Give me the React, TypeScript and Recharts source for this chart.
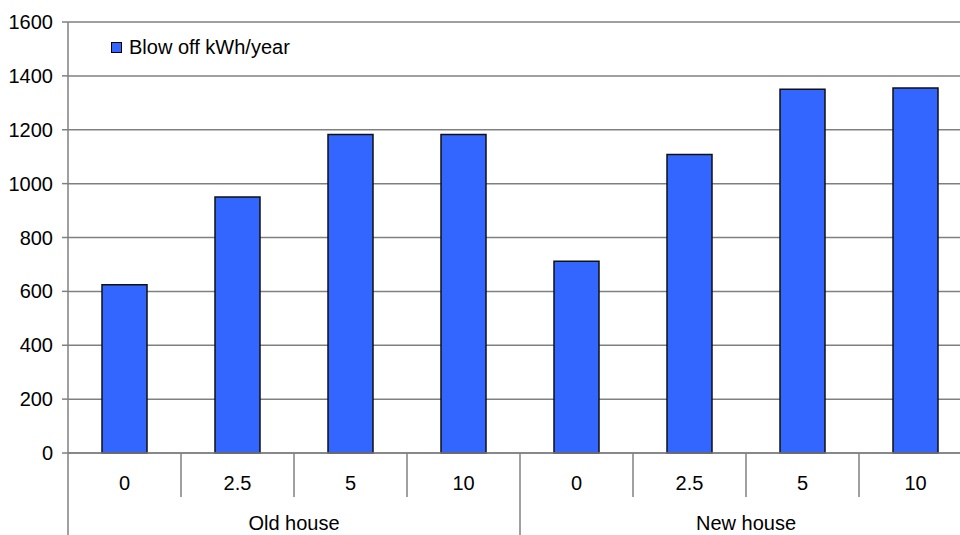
import React from 'react';
import { BarChart, Bar, XAxis, YAxis, CartesianGrid } from 'recharts';

const groups = ['Old house', 'New house'];
const ventLabels = ['0', '2.5', '5', '10'];
const oldHouse = [625, 950, 1182, 1182];
const newHouse = [712, 1108, 1350, 1355];
const yTicks = [0, 200, 400, 600, 800, 1000, 1200, 1400, 1600];
const seriesName = 'Blow off kWh/year';

const seriesByGroup = [oldHouse, newHouse];
const data = groups.flatMap((group, gi) =>
  ventLabels.map((vent, vi) => ({
    key: `${group}-${vent}`,
    group,
    vent,
    blowOff: seriesByGroup[gi][vi],
  }))
);

const FONT = '"Liberation Sans", Arial, sans-serif';
const FS = 20;
const AXIS = '#808080';
const XAXIS_H = 82;

function TwoLevelTick(props: any) {
  const { x, y, index, width, visibleTicksCount } = props;
  const row = data[index];
  const catW = width / visibleTicksCount;
  const half = catW / 2;
  const perGroup = ventLabels.length;
  const posInGroup = index % perGroup;
  const isGroupStart = posInGroup === 0;
  const isGroupEnd = posInGroup === perGroup - 1;
  return (
    <g>
      <text x={x} y={y + 30} textAnchor="middle" dominantBaseline="central" fontSize={FS} fill="#000" fontFamily={FONT}>
        {row.vent}
      </text>
      {!isGroupEnd && (
        <line x1={x + half} y1={y} x2={x + half} y2={y + 44} stroke={AXIS} strokeWidth={1.5} />
      )}
      {isGroupStart && (
        <>
          <line x1={x - half} y1={y} x2={x - half} y2={y + XAXIS_H} stroke={AXIS} strokeWidth={1.5} />
          <text
            x={x - half + catW * perGroup / 2}
            y={y + 70}
            textAnchor="middle"
            dominantBaseline="central"
            fontSize={FS}
            fill="#000"
            fontFamily={FONT}
          >
            {row.group}
          </text>
        </>
      )}
    </g>
  );
}

export default function App() {
  return (
    <div style={{ position: 'absolute', left: 0, top: 0, width: 960, height: 535, overflow: 'hidden', background: '#fff' }}>
      <BarChart
        width={980}
        height={535}
        data={data}
        margin={{ top: 22, right: 8, left: 0, bottom: 0 }}
        barSize={45}
      >
        <CartesianGrid vertical={false} stroke={AXIS} strokeWidth={1.5} />
        <XAxis
          dataKey="key"
          height={XAXIS_H}
          interval={0}
          tickSize={0}
          tickMargin={0}
          tickLine={false}
          axisLine={{ stroke: AXIS, strokeWidth: 1.5 }}
          tick={<TwoLevelTick />}
        />
        <YAxis
          width={68}
          domain={[0, 1600]}
          ticks={yTicks}
          interval={0}
          tickSize={6}
          tickMargin={9}
          tickLine={{ stroke: AXIS, strokeWidth: 1.5 }}
          axisLine={{ stroke: AXIS, strokeWidth: 1.5 }}
          tick={{ fill: '#000', fontSize: FS, fontFamily: FONT }}
        />
        <Bar dataKey="blowOff" name={seriesName} fill="#3366FF" stroke="#111" strokeWidth={1.5} isAnimationActive={false} />
      </BarChart>
      <div
        style={{
          position: 'absolute',
          left: 111,
          top: 36,
          display: 'flex',
          alignItems: 'center',
          fontFamily: FONT,
          fontSize: FS,
          color: '#000',
          whiteSpace: 'nowrap',
        }}
      >
        <span style={{ width: 9, height: 9, background: '#3366FF', border: '1px solid #000', marginRight: 7 }} />
        <span>{seriesName}</span>
      </div>
    </div>
  );
}
